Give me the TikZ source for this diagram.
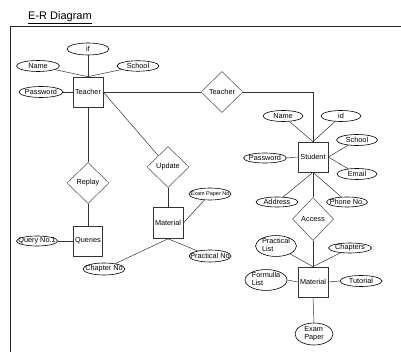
\documentclass[tikz,border=0pt]{standalone}
\usepackage{fontspec}
\setmainfont{Liberation Sans}
\usetikzlibrary{shapes.geometric}
\newcommand{\ctr}[1]{\makebox[0pt]{#1}}
\newcommand{\twol}[2]{\makebox[0pt]{\fontsize{7.3}{7}\selectfont\begin{tabular}{@{}l@{}}#1\\#2\end{tabular}}}
\tikzset{
  every node/.style={font=\fontsize{7.3}{8}\selectfont, text=black},
  entity/.style={draw=black!80, line width=0.6pt, rectangle, minimum width=30pt, minimum height=30pt, inner sep=0pt},
  attr/.style={draw=black, line width=0.6pt, ellipse, minimum width=42pt, minimum height=11pt, inner sep=0pt},
  rel/.style={draw=black!70, line width=0.5pt, diamond, minimum width=42pt, minimum height=41pt, inner sep=0pt},
  link/.style={draw=black!80, line width=0.5pt},
  frame/.style={draw=black!85, line width=0.7pt}
}
\begin{document}
\begin{tikzpicture}[x=1pt, y=-1pt]
\useasboundingbox (0,0) rectangle (401,352);

% heading and page frame
\node[anchor=base west, font=\fontsize{11}{13}\selectfont, inner sep=0pt] (title) at (28,20) {\underline{E-R Diagram}};
\draw[frame] (10,352) -- (10,26.5) -- (401,26.5);

% Teacher entity and attributes
\node[entity] (teacher) at (88,92) {Teacher};
\node[attr, minimum height=12pt] (tif) at (88,49) {\ctr{if}};
\node[attr, minimum width=43pt] (tname) at (38,66) {\ctr{Name}};
\node[attr, minimum height=10.5pt] (tschool) at (138,66) {\ctr{School}};
\node[attr, minimum width=44pt] (tpass) at (41,92) {\ctr{Password}};

% relationships on the left
\node[rel] (tdiam) at (222,92) {Teacher};
\node[rel] (replay) at (88,183) {Replay};
\node[entity, minimum width=29pt] (queries) at (88,241) {Queries};
\node[attr, minimum width=41pt, minimum height=10pt] (qno) at (37,241) {\ctr{Query No.1}};
\node[rel] (update) at (168,167) {Update};
\node[entity, minimum height=31pt] (mat1) at (168,223) {Material};
\node[attr, minimum height=12pt] (epno) at (210,194) {\ctr{\fontsize{5.5}{6}\selectfont Exam Paper No}};
\node[attr, minimum height=12pt] (pno) at (210,256) {\ctr{Practical No}};
\node[attr, minimum height=12pt] (chno) at (104,269) {\ctr{Chapter No}};

% Student entity and attributes
\node[entity] (student) at (313,157) {Student};
\node[attr, minimum width=40pt] (sname) at (283,116) {\ctr{Name}};
\node[attr, minimum width=40pt] (sid) at (341,116) {\ctr{id}};
\node[attr, minimum width=41pt] (sschool) at (357,140) {\ctr{School}};
\node[attr, minimum width=43pt, minimum height=10pt] (spass) at (265,158) {\ctr{Password}};
\node[attr, minimum width=40pt] (semail) at (357,174) {\ctr{Email}};
\node[attr, minimum height=10pt] (saddr) at (277,202) {\ctr{Address}};
\node[attr, minimum width=41pt, minimum height=10pt] (sphone) at (347,202) {\ctr{Phone No.}};

% Access relationship and Material entity on the right
\node[rel, minimum width=41pt, minimum height=43pt] (access) at (313,219) {Access};
\node[entity] (mat2) at (313,282) {Material};
\node[attr, minimum width=41pt, minimum height=19pt] (plist) at (276,246) {\twol{Practical}{List}};
\node[attr, minimum width=43pt, minimum height=10pt] (chapters) at (350,248) {\ctr{Chapters}};
\node[attr, minimum height=16pt] (flist) at (266,280) {\twol{Formulla}{List}};
\node[attr] (tutorial) at (361,281) {\ctr{Tutorial}};
\node[attr, minimum width=38pt, minimum height=22pt] (exampaper) at (314,334) {\twol{Exam}{Paper}};

% connectors: Teacher side
\draw[link] (tif) -- (teacher.north);
\draw[link] (tname) -- (teacher.north);
\draw[link] (tschool) -- (teacher.north);
\draw[link] (tpass.east) -- (teacher.west);
\draw[link] (teacher.east) -- (tdiam.west);
\draw[link] (tdiam.east) -| (student.north);
\draw[link] (teacher.south) -- (replay.north);
\draw[link] (replay.south) -- (queries.north);
\draw[link] (qno.east) -- (queries.west);
\draw[link] (teacher.east) -- (update);
\draw[link] (update.south) -- (mat1.north);
\draw[link] (mat1.east) -- (epno);
\draw[link] (mat1.south) -- (pno);
\draw[link] (mat1.south) -- (chno);

% connectors: Student side
\draw[link] (sname) -- (student.north);
\draw[link] (sid) -- (student.north);
\draw[link] (student.east) -- (sschool);
\draw[link] (student.east) -- (semail);
\draw[link] (spass.east) -- (student.west);
\draw[link] (student.south) -- (saddr);
\draw[link] (student.south) -- (sphone);
\draw[link] (student.south) -- (access.north);
\draw[link] (access.south) -- (mat2.north);
\draw[link] (plist) -- (mat2.north);
\draw[link] (chapters) -- (mat2.north);
\draw[link] (flist.east) -- (mat2.west);
\draw[link] (tutorial.west) -- (mat2.east);
\draw[link] (mat2.south) -- (exampaper.north);
\end{tikzpicture}
\end{document}
